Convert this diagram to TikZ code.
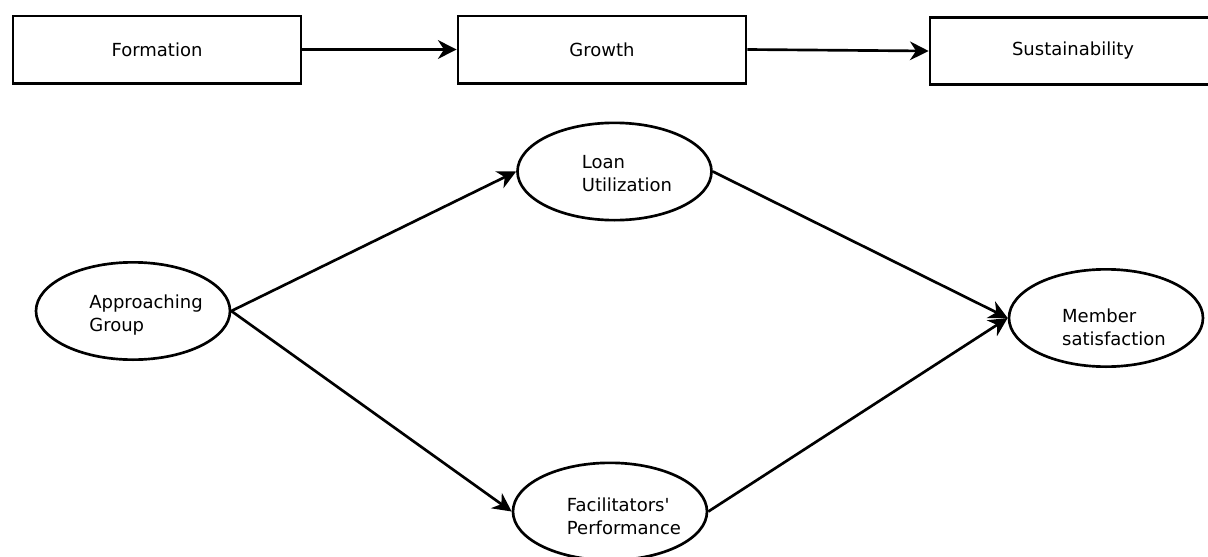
\documentclass[tikz,border=0pt]{standalone}
\usepackage{fontspec}
\setmainfont{DejaVu Sans}
\newfontfamily\plainquote{DejaVu Sans}
\usetikzlibrary{arrows.meta,shapes.geometric}
\begin{document}
\begin{tikzpicture}[x=0.75pt,y=-0.75pt,
  font=\fontsize{13.5pt}{17.25pt}\selectfont,
  stagebox/.style={draw,line width=2pt,rectangle,inner sep=0pt,minimum height=50.5pt},
  oval/.style={draw,line width=2pt,ellipse,inner sep=0pt,minimum width=145.5pt,minimum height=73pt},
  lbl/.style={align=left,inner sep=0pt},
  conn/.style={line width=2pt,-{Stealth[length=14pt,width=14pt,inset=4.5pt]}}]
\useasboundingbox (0,0) rectangle (1208,557);
\clip (0,0) rectangle (1208,557);
\node[stagebox,minimum width=216pt] (form) at (157,49.5) {Formation};
\node[stagebox,minimum width=216pt] (grow) at (602,49.5) {Growth};
\node[stagebox,minimum width=214.5pt] (sust) at (1073,51) {Sustainability};
\node[oval] (loan) at (614.5,171.5) {};
\node[oval] (appr) at (133,311) {};
\node[oval] (memb) at (1106,318) {};
\node[oval] (faci) at (610,511.5) {};
\node[lbl] (loant) at (627,174) {Loan\\Utilization};
\node[lbl] (apprt) at (146,315) {Approaching\\Group};
\node[lbl] (membt) at (1114,327) {Member\\satisfaction};
\node[lbl] (facit) at (624,516) {Facilitators{\plainquote'}\\Performance};
\draw[conn] (form.east) -- (grow.west);
\draw[conn] (grow.east) -- (sust.west);
\draw[conn] (appr.east) -- (loan.west);
\draw[conn] (appr.east) -- (faci.west);
\draw[conn] (loan.east) -- (memb.west);
\draw[conn] (faci.east) -- (memb.west);
\end{tikzpicture}
\end{document}
